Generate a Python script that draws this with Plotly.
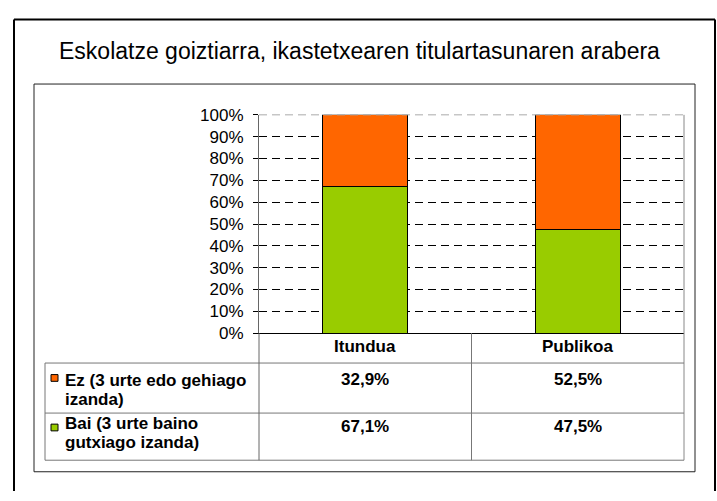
import plotly.graph_objects as go

# ---- data ----
categories = ["Itundua", "Publikoa"]
series_lines = [["Ez (3 urte edo gehiago", "izanda)"], ["Bai (3 urte baino", "gutxiago izanda)"]]
ez_values = [32.9, 52.5]
bai_values = [67.1, 47.5]
y_ticks = [0, 10, 20, 30, 40, 50, 60, 70, 80, 90, 100]
title_text = "Eskolatze goiztiarra, ikastetxearen titulartasunaren arabera"

C_EZ = "#FF6600"
C_BAI = "#99CC00"
FONT = "Liberation Sans, Arial, sans-serif"

W, H = 717, 501


def px(x):
    return x / W


def py(y):
    return 1 - y / H


fig = go.Figure()
fig.add_trace(go.Bar(x=categories, y=bai_values, name="Bai",
                     marker=dict(color=C_BAI, line=dict(color="#000", width=1))))
fig.add_trace(go.Bar(x=categories, y=ez_values, name="Ez",
                     marker=dict(color=C_EZ, line=dict(color="#000", width=1))))

# geometry (window pixels)
PL, PR, PT, PB = 259, 684, 110, 337
TL, ROW1, ROW2, TB = 45, 368, 420, 469
COLMID = (PL + PR) / 2


def hline(x0, x1, y, color, width=1, dash=None):
    ln = dict(color=color, width=width)
    if dash:
        ln["dash"] = dash
    return dict(type="line", xref="paper", yref="paper", x0=px(x0), x1=px(x1), y0=py(y), y1=py(y), line=ln)


def vline(x, y0, y1, color, width=1):
    return dict(type="line", xref="paper", yref="paper", x0=px(x), x1=px(x), y0=py(y0), y1=py(y1),
                line=dict(color=color, width=width))


shapes = []
# outer frame (bottom edge lies outside the picture)
shapes.append(hline(14, 715, 11, "#000", 2))
shapes.append(vline(14, 11, H, "#000", 2))
shapes.append(vline(715, 11, H, "#000", 2))
# inner frame
shapes.append(dict(type="rect", xref="paper", yref="paper", x0=px(34), x1=px(695), y0=py(481), y1=py(78),
                   line=dict(color="#222", width=1)))
shapes.append(vline(PR, PT, TB, "#888"))
shapes.append(hline(PL, PR, PT, "#aaa", 1, "8px,5px"))
gray = "#777"
for yy in (ROW1, ROW2, TB):
    shapes.append(hline(TL, PR, yy, gray))
shapes.append(vline(TL, ROW1, TB, gray))
shapes.append(vline(PL, PB, TB, "#666"))
shapes.append(vline(COLMID, PB, TB, gray))
for (yk, col) in ((383.5, C_EZ), (435, C_BAI)):
    shapes.append(dict(type="rect", xref="paper", yref="paper", x0=px(51), x1=px(58),
                       y0=py(yk + 3.5), y1=py(yk - 3.5),
                       fillcolor=col, line=dict(color="#000", width=1)))

annotations = []
annotations.append(dict(text=title_text, xref="paper", yref="paper", x=px(359), y=py(44), showarrow=False,
                        font=dict(family=FONT, size=23, color="#000"), xanchor="center", yanchor="middle"))
TF = 17
centers = [(PL + COLMID) / 2, (COLMID + PR) / 2]
for c, cat in zip(centers, categories):
    annotations.append(dict(text="<b>%s</b>" % cat, xref="paper", yref="paper", x=px(c), y=py(351),
                            showarrow=False, font=dict(family=FONT, size=TF, color="#000"),
                            xanchor="center", yanchor="middle"))


def fmt(v):
    return ("%.1f" % v).replace(".", ",") + "%"


row_specs = [((386, 406), 385, series_lines[0], ez_values),
             ((431, 451), 434, series_lines[1], bai_values)]
for (y1, y2), yv, lines, vals in row_specs:
    for yy, line in zip((y1, y2), lines):
        annotations.append(dict(text="<b>%s</b>" % line, xref="paper", yref="paper", x=px(63), y=py(yy),
                                showarrow=False, font=dict(family=FONT, size=TF, color="#000"),
                                xanchor="left", yanchor="middle"))
    for c, v in zip(centers, vals):
        annotations.append(dict(text="<b>%s</b>" % fmt(v), xref="paper", yref="paper", x=px(c), y=py(yv),
                                showarrow=False, font=dict(family=FONT, size=TF, color="#000"),
                                xanchor="center", yanchor="middle"))

fig.update_layout(
    width=W, height=H,
    margin=dict(l=0, r=0, t=0, b=0),
    paper_bgcolor="#fff", plot_bgcolor="#fff",
    barmode="stack", bargap=0.6,
    showlegend=False,
    font=dict(family=FONT, size=17, color="#000"),
    xaxis=dict(domain=[px(PL), px(PR)], range=[-0.5, 1.5], type="category",
               showticklabels=False, ticks="", showgrid=False, zeroline=False,
               showline=True, linecolor="#000", linewidth=1),
    yaxis=dict(domain=[py(PB), py(PT)], range=[0, 100], tickvals=y_ticks,
               ticktext=["%d%%" % t for t in y_ticks], ticks="outside", ticklen=5, tickcolor="#000",
               ticklabelstandoff=6,
               showline=True, linecolor="#666", linewidth=1,
               showgrid=True, gridcolor="#000", gridwidth=1, griddash="8px,5px", zeroline=False,
               tickfont=dict(family=FONT, size=17, color="#000")),
    shapes=shapes,
    annotations=annotations,
)

fig.write_html("out.html", config={"displayModeBar": False},
               post_script="document.body.style.margin='0';document.body.style.overflow='hidden';")
